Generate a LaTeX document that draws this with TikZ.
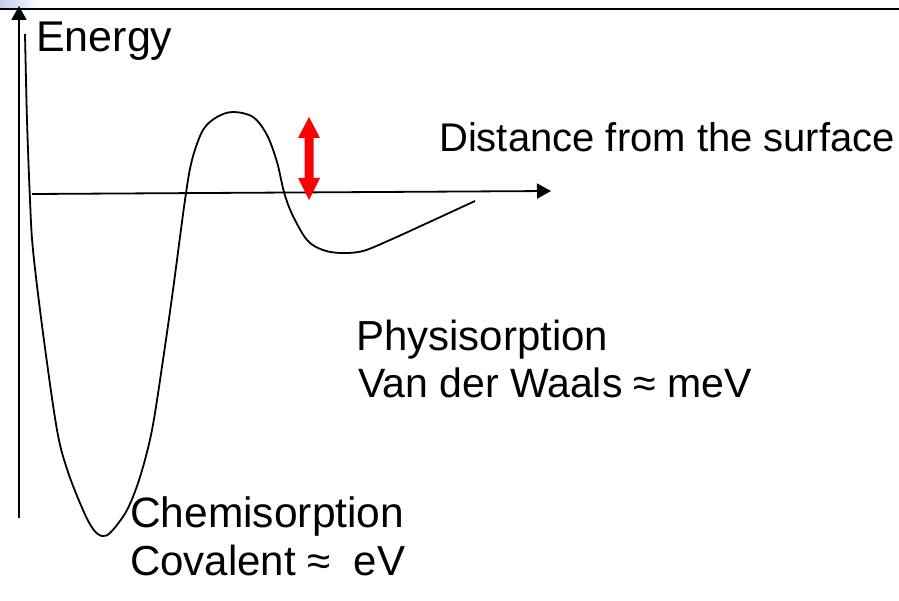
\documentclass[tikz,border=0pt]{standalone}
\usepackage{fontspec}
\setmainfont{Liberation Sans}
\usetikzlibrary{arrows.meta}
\definecolor{topblue}{HTML}{C3CEEC}
\begin{document}
\begin{tikzpicture}[x=1pt,y=-1pt,
  lbl/.style={inner sep=0pt,anchor=base west,font=\fontsize{40}{48}\selectfont},
  axis/.style={line width=1.8pt,-{Triangle[length=14pt,width=15pt]}},
  curve/.style={line width=1.8pt,line join=round},
  redarrow/.style={fill=red,draw=none}]
\useasboundingbox (0,0) rectangle (899,601);
\shade[left color=topblue,right color=white] (0,0) rectangle (42,8);
% top rule
\coordinate (tl) at (0,9);
\coordinate (tr) at (899,9);
\draw[line width=2.4pt] (tl) -- (tr);
% axes
\coordinate (yb) at (19,518);
\coordinate (yt) at (19,6);
\draw[axis] (yb) -- (yt);
\coordinate (xl) at (32,194);
\coordinate (xr) at (551,191);
\draw[axis] (xl) -- (xr);
% potential curve
\draw[curve] plot[smooth,tension=0.55] coordinates {
 (25,34) (27,120) (30,200) (33,250) (43,333) (57,430) (68,472) (83,510) (93,529) (102,536)
 (111,532) (127,510) (140,477) (152,430) (163,360) (173,290) (185,200) (192,160) (203,130)
 (217,117) (233,112) (253,117) (267,135) (277,162) (284,192) (292,214) (307,240)
 (323,250) (341,253) (363,251) (390,240) (423,225) (475,201)};
% red double arrow
\fill[redarrow] (309,117) -- (320,138) -- (313.5,138) -- (313.5,178) -- (320,178)
  -- (309,200) -- (298,178) -- (304.5,178) -- (304.5,138) -- (298,138) -- cycle;
% labels
\node[lbl,font=\fontsize{43}{48}\selectfont] (energy) at (36,52) {Energy};
\node[lbl] (dist) at (439,152) {Distance from the surface};
\node[lbl,font=\fontsize{42}{48}\selectfont] (phys) at (356,350) {Physisorption};
\node[lbl,font=\fontsize{41}{48}\selectfont] (vdw) at (358,397) {Van der Waals ≈ meV};
\node[lbl,font=\fontsize{42.5}{48}\selectfont] (chem) at (130,527) {Chemisorption};
\node[lbl,font=\fontsize{42}{48}\selectfont] (cov) at (130,575) {Covalent ≈ \ eV};
\end{tikzpicture}
\end{document}
